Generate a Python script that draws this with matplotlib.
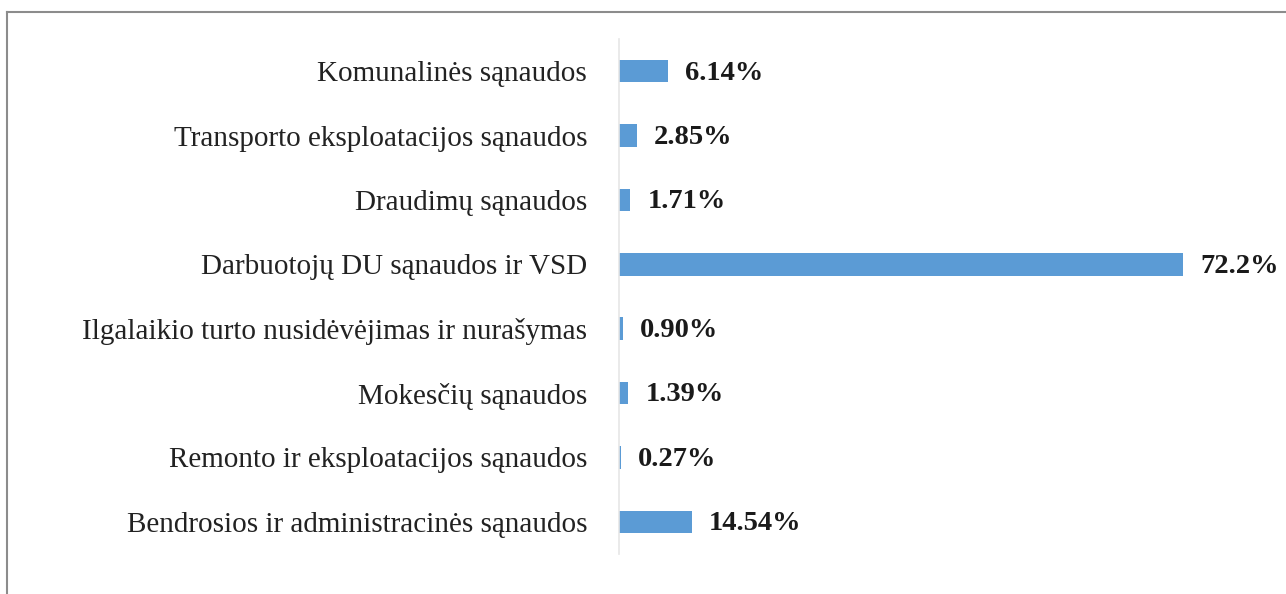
import matplotlib.pyplot as plt
from matplotlib.lines import Line2D

# Categories, top to bottom
categories = [
    "Komunalinės sąnaudos",
    "Transporto eksploatacijos sąnaudos",
    "Draudimų sąnaudos",
    "Darbuotojų DU sąnaudos ir VSD",
    "Ilgalaikio turto nusidėvėjimas ir nurašymas",
    "Mokesčių sąnaudos",
    "Remonto ir eksploatacijos sąnaudos",
    "Bendrosios ir administracinės sąnaudos",
]
# printed labels
value_labels = ["6.14%", "2.85%", "1.71%", "72.2%", "0.90%", "1.39%", "0.27%", "14.54%"]
# bar lengths as drawn in the source chart (last bar is shorter than its label)
bar_values = [6.3, 2.3, 1.45, 72.2, 0.5, 1.2, 0.2, 9.3]

plt.rcParams['font.family'] = ['Liberation Serif', 'DejaVu Serif']

fig = plt.figure(figsize=(12.86, 5.94), dpi=100)
ax = fig.add_axes([619 / 1286, 40 / 594, 625 / 1286, 515 / 594])

y = list(range(len(categories)))
ax.barh(y, bar_values, height=0.35, color='#5b9bd5', edgecolor='none')
ax.set_ylim(len(categories) - 0.5, -0.5)
ax.set_xlim(0, 80)

ax.set_yticks(y)
ax.set_yticklabels(categories, fontsize=21, color='#222222')
ax.tick_params(axis='y', length=0, pad=23)
ax.set_xticks([])

for s in ['top', 'right', 'bottom']:
    ax.spines[s].set_visible(False)
ax.spines['left'].set_color('#e6e6e6')
ax.spines['left'].set_linewidth(1.2)

for yi, v, lab in zip(y, bar_values, value_labels):
    ax.text(v + 2.2, yi + 0.03, lab, va='center', ha='left', fontsize=20.5,
            fontweight='bold', color='#1a1a1a')

# partial frame around the chart (top and left edges visible)
fig.add_artist(Line2D([7 / 1286, 1.0], [1 - 12 / 594, 1 - 12 / 594],
                      transform=fig.transFigure, color='#8c8c8c', lw=1.5))
fig.add_artist(Line2D([7 / 1286, 7 / 1286], [0.0, 1 - 12 / 594],
                      transform=fig.transFigure, color='#8c8c8c', lw=1.5))

fig.savefig('out.png', dpi=100)
